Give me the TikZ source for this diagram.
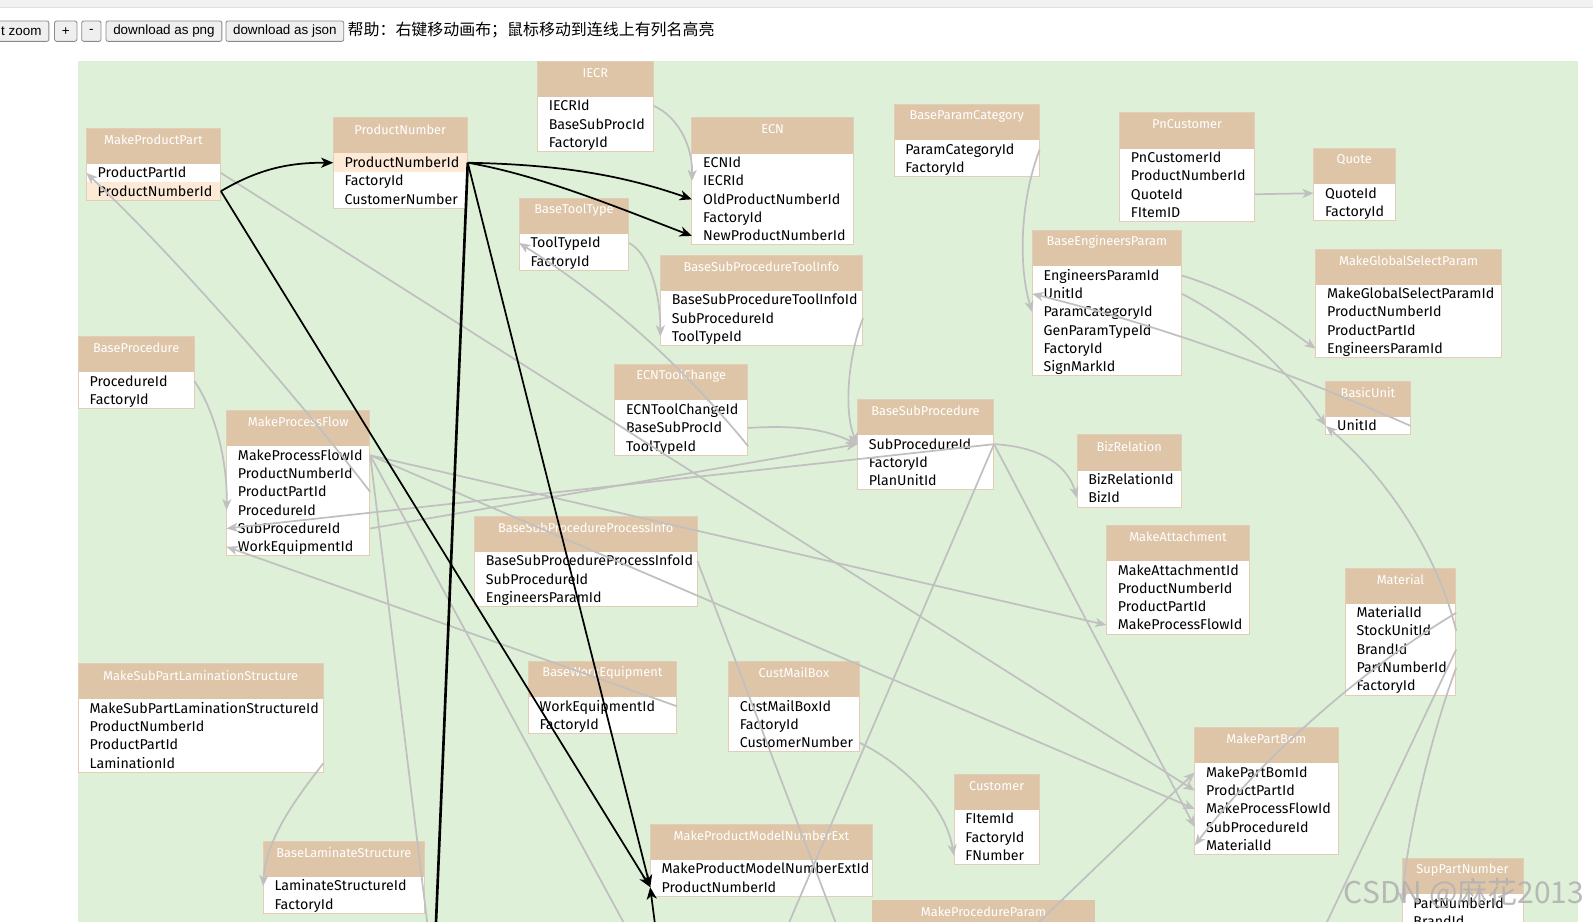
\documentclass[tikz,border=0pt]{standalone}
\usepackage{fontspec}
\setmainfont{Fira Sans}
\newfontfamily\cjkfont{Noto Sans CJK SC}
\newfontfamily\arialfont{Liberation Sans}
\usetikzlibrary{arrows.meta}
\definecolor{greenbg}{HTML}{DFF0D8}
\definecolor{hdrcol}{HTML}{DFC5A8}
\definecolor{bordercol}{HTML}{E2CDB6}
\definecolor{hlcol}{HTML}{FCE9D6}
\definecolor{linkgray}{HTML}{C0C0C0}
\definecolor{btnfill}{HTML}{EFEFEF}
\definecolor{btnborder}{HTML}{8A8A8A}
\definecolor{topband}{HTML}{F1F1F1}
\tikzset{
 hdr/.style={fill=hdrcol, inner sep=0pt, minimum height=35pt},
 hdrtxt/.style={text=white, font=\fontsize{12.6}{14}\selectfont, inner sep=0pt},
 rowbox/.style={inner sep=0pt, minimum height=18pt},
 rowtxt/.style={anchor=west, inner sep=0pt, font=\fontsize{14}{16}\selectfont, text height=10pt, text depth=3pt},
 glink/.style={draw=linkgray, line width=1.7pt, -{Stealth[length=11pt,width=9pt,inset=3pt]}},
 glinkn/.style={draw=linkgray, line width=1.7pt},
 blink/.style={draw=black, line width=1.7pt, -{Stealth[length=12pt,width=10pt,inset=3.5pt]}},
 blinkn/.style={draw=black, line width=2.6pt},
 btn/.style={draw=btnborder, fill=btnfill, rounded corners=2pt, line width=0.8pt},
 btntxt/.style={inner sep=0pt, font=\arialfont\fontsize{13.2}{15}\selectfont},
 wmark/.style={inner sep=0pt, text=black!30, opacity=0.9, font=\cjkfont\fontsize{29.5}{32}\selectfont},
}
% #1 name #2 L #3 R #4 T #5 n #6 title #7 fields #8 highlighted row
\newcommand{\tbl}[8]{%
  \pgfmathsetmacro{\tw}{#3-#2}%
  \fill[white] (#2,#4+35) rectangle (#3,{#4+35+18*#5});
  \node[hdr, minimum width=\tw pt, anchor=north west] (#1) at (#2,#4) {};
  \node[hdrtxt] (#1-t) at ({(#2+#3)/2},#4+11.5) {#6};
  \foreach \f [count=\i] in {#7} {
    \ifnum\i=#8 \fill[hlcol] (#2,{#4+35+18*(\i-1)}) rectangle (#3,{#4+35+18*\i}); \fi
    \node[rowbox, minimum width=\tw pt, anchor=north west] (#1-\i) at (#2,{#4+35+18*(\i-1)}) {};
    \node[rowtxt] (#1-\i-t) at (#2+11,{#4+45.5+18*(\i-1)}) {\f};
  }
  \draw[bordercol, line width=0.8pt] (#2,#4) rectangle (#3,{#4+35+18*#5});
}
\begin{document}
\begin{tikzpicture}[x=1pt,y=-1pt]
\clip (0,0) rectangle (1568,907.5);
\fill[white] (0,0) rectangle (1568,907.5);
\fill[topband] (0,0) rectangle (1568,7);
\draw[black!12, line width=0.6pt] (0,7) -- (1568,7);
% toolbar
\node[btn, minimum width=60pt, minimum height=20pt, anchor=north east] (bzoom) at (48.5,20.3) {};
\node[btntxt, anchor=east] (bzoom-t) at (41,30.5) {t zoom};
\node[btn, minimum width=22pt, minimum height=20pt, anchor=north west] (bplus) at (53.3,20.3) {};
\node[btntxt] (bplus-t) at (bplus.center) {+};
\node[btn, minimum width=19pt, minimum height=20pt, anchor=north west] (bminus) at (80,20.3) {};
\node[btntxt] (bminus-t) at (bminus.center) {-};
\node[btn, minimum width=114pt, minimum height=20pt, anchor=north west] (bpng) at (104,20.3) {};
\node[btntxt] (bpng-t) at (bpng.center) {download as png};
\node[btn, minimum width=116pt, minimum height=20pt, anchor=north west] (bjson) at (222,20.3) {};
\node[btntxt] (bjson-t) at (bjson.center) {download as json};
\node[inner sep=0pt, anchor=west, font=\cjkfont\fontsize{15.7}{18}\selectfont] (help) at (342,29.5) {帮助：右键移动画布；鼠标移动到连线上有列名高亮};
% canvas
\fill[greenbg] (77,60) rectangle (1553,908);
% tables
\tbl{IECR}{529}{643}{60}{3}{IECR}{IECRId,BaseSubProcId,FactoryId}{0}
\tbl{MakeProductPart}{85}{217}{126}{2}{MakeProductPart}{ProductPartId,ProductNumberId}{2}
\tbl{ProductNumber}{328}{460}{116}{3}{ProductNumber}{ProductNumberId,FactoryId,CustomerNumber}{1}
\tbl{ECN}{681}{840}{116}{5}{ECN}{ECNId,IECRId,OldProductNumberId,FactoryId,NewProductNumberId}{0}
\tbl{BaseToolType}{511}{619}{195}{2}{BaseToolType}{ToolTypeId,FactoryId}{0}
\tbl{BaseParamCategory}{880}{1023}{103}{2}{BaseParamCategory}{ParamCategoryId,FactoryId}{0}
\tbl{PnCustomer}{1102}{1235}{111}{4}{PnCustomer}{PnCustomerId,ProductNumberId,QuoteId,FItemID}{0}
\tbl{Quote}{1293}{1373}{146}{2}{Quote}{QuoteId,FactoryId}{0}
\tbl{BaseEngineersParam}{1016}{1163}{227}{6}{BaseEngineersParam}{EngineersParamId,UnitId,ParamCategoryId,GenParamTypeId,FactoryId,SignMarkId}{0}
\tbl{MakeGlobalSelectParam}{1295}{1478}{245}{4}{MakeGlobalSelectParam}{MakeGlobalSelectParamId,ProductNumberId,ProductPartId,EngineersParamId}{0}
\tbl{BaseSubProcedureToolInfo}{650}{849}{251}{3}{BaseSubProcedureToolInfo}{BaseSubProcedureToolInfoId,SubProcedureId,ToolTypeId}{0}
\tbl{BaseProcedure}{77}{191}{331}{2}{BaseProcedure}{ProcedureId,FactoryId}{0}
\tbl{ECNToolChange}{605}{736}{359}{3}{ECNToolChange}{ECNToolChangeId,BaseSubProcId,ToolTypeId}{0}
\tbl{MakeProcessFlow}{223}{364}{404}{6}{MakeProcessFlow}{MakeProcessFlowId,ProductNumberId,ProductPartId,ProcedureId,SubProcedureId,WorkEquipmentId}{0}
\tbl{BaseSubProcedure}{844}{978}{393}{3}{BaseSubProcedure}{SubProcedureId,FactoryId,PlanUnitId}{0}
\tbl{BizRelation}{1060}{1163}{428}{2}{BizRelation}{BizRelationId,BizId}{0}
\tbl{BasicUnit}{1305}{1388}{375}{1}{BasicUnit}{UnitId}{0}
\tbl{BaseSubProcedureProcessInfo}{467}{686}{508}{3}{BaseSubProcedureProcessInfo}{BaseSubProcedureProcessInfoId,SubProcedureId,EngineersParamId}{0}
\tbl{MakeAttachment}{1089}{1230}{517}{4}{MakeAttachment}{MakeAttachmentId,ProductNumberId,ProductPartId,MakeProcessFlowId}{0}
\tbl{Material}{1324}{1433}{559}{5}{Material}{MaterialId,StockUnitId,BrandId,PartNumberId,FactoryId}{0}
\tbl{MakeSubPartLaminationStructure}{77}{318}{653}{4}{MakeSubPartLaminationStructure}{MakeSubPartLaminationStructureId,ProductNumberId,ProductPartId,LaminationId}{0}
\tbl{BaseWorkEquipment}{520}{666}{651}{2}{BaseWorkEquipment}{WorkEquipmentId,FactoryId}{0}
\tbl{CustMailBox}{717}{846}{651}{3}{CustMailBox}{CustMailBoxId,FactoryId,CustomerNumber}{0}
\tbl{MakePartBom}{1176}{1317}{716}{5}{MakePartBom}{MakePartBomId,ProductPartId,MakeProcessFlowId,SubProcedureId,MaterialId}{0}
\tbl{Customer}{939}{1023}{762}{3}{Customer}{FItemId,FactoryId,FNumber}{0}
\tbl{MakeProductModelNumberExt}{640}{859}{811}{2}{MakeProductModelNumberExt}{MakeProductModelNumberExtId,ProductNumberId}{0}
\tbl{BaseLaminateStructure}{259}{418}{828}{2}{BaseLaminateStructure}{LaminateStructureId,FactoryId}{0}
\tbl{SupPartNumber}{1380}{1499}{845}{2}{SupPartNumber}{PartNumberId,BrandId}{0}
\node[hdr, minimum width=220pt, anchor=north west] (MakeProcedureParam) at (858,886) {};
\node[hdrtxt] (MakeProcedureParam-t) at (968,897.5) {MakeProcedureParam};
% free ends below the visible canvas
\coordinate (cb1) at (429,912);
\coordinate (cb2) at (645,912);
\coordinate (cb3) at (1304,912);
\coordinate (cb4) at (421,912);
\coordinate (cb5) at (616,912);
\coordinate (cb6) at (824,912);
\coordinate (cb7) at (775,912);
\coordinate (cb8) at (1018,912);
% gray connectors
\draw[glink] (IECR-1.east) .. controls (668,115) and (682,145) .. (ECN-2.west);
\draw[glink] (BaseToolType-1.east) .. controls (642,252) and (650,295) .. (BaseSubProcedureToolInfo-3.west);
\draw[glink] (BaseSubProcedureToolInfo-2.east) .. controls (835,350) and (830,405) .. (BaseSubProcedure-1.west);
\draw[glink] (ECNToolChange-2.east) .. controls (790,418) and (815,424) .. (BaseSubProcedure-1.west);
\draw[glink] (BaseSubProcedure-1.east) .. controls (1030,440) and (1052,462) .. (BizRelation-2.west);
\draw[glink] (BaseParamCategory-1.east) .. controls (1003,200) and (1003,265) .. (BaseEngineersParam-3.west);
\draw[glink] (BasicUnit-1.east) .. controls (1264,364) and (1140,320) .. (BaseEngineersParam-2.west);
\draw[glink] (BaseEngineersParam-1.east) .. controls (1230,292) and (1262,320) .. (MakeGlobalSelectParam-4.west);
\draw[glink] (BaseEngineersParam-2.east) .. controls (1220,318) and (1272,370) .. (BasicUnit-1.west);
\draw[glink] (PnCustomer-3.east) -- (Quote-1.west);
\draw[glink] (Material-2.east) .. controls (1415,545) and (1365,470) .. (BasicUnit-1.west);
\draw[glink] (Material-1.east) .. controls (1330,665) and (1230,760) .. (MakePartBom-5.west);
\draw[glinkn] (Material-3.east) -- (cb3);
\draw[glink] (Material-4.east) .. controls (1410,720) and (1385,820) .. (SupPartNumber-1.west);
\draw[glink] (MakeProcessFlow-3.east) .. controls (300,400) and (180,260) .. (MakeProductPart-1.west);
\draw[glink] (MakeProductPart-1.east) -- (MakePartBom-2.west);
\draw[glink] (MakeProcessFlow-1.east) -- (MakeAttachment-4.west);
\draw[glink] (MakeProcessFlow-1.east) -- (MakePartBom-3.west);
\draw[glinkn] (MakeProcessFlow-1.east) -- (cb4);
\draw[glinkn] (MakeProcessFlow-1.east) -- (cb5);
\draw[glink] (MakeProcessFlow-5.east) -- (BaseSubProcedure-1.west);
\draw[glink] (BaseSubProcedure-1.east) -- (MakeProcessFlow-5.west);
\draw[glink] (BaseProcedure-1.east) .. controls (212,405) and (224,455) .. (MakeProcessFlow-4.west);
\draw[glink] (BaseWorkEquipment-1.east) -- (MakeProcessFlow-6.west);
\draw[glink] (ECNToolChange-3.east) .. controls (672,360) and (598,294) .. (BaseToolType-1.west);
\draw[glinkn] (BaseSubProcedureProcessInfo-1.east) -- (cb6);
\draw[glinkn] (BaseSubProcedure-1.east) -- (cb7);
\draw[glink] (BaseSubProcedure-1.east) -- (MakePartBom-4.west);
\draw[glink] (cb8) -- (MakePartBom-1.west);
\draw[glink] (MakeSubPartLaminationStructure-4.east) .. controls (292,785) and (262,825) .. (BaseLaminateStructure-1.west);
\draw[glink] (CustMailBox-3.east) .. controls (885,750) and (930,790) .. (Customer-3.west);
% black connectors
\draw[blink] (MakeProductPart-2.east) .. controls (255,166) and (285,160) .. (ProductNumber-1.west);
\draw[blink] (ProductNumber-1.east) .. controls (560,162) and (620,175) .. (ECN-3.west);
\draw[blink] (ProductNumber-1.east) .. controls (530,172) and (610,205) .. (ECN-5.west);
\draw[blink] (ProductNumber-1.east) -- (MakeProductModelNumberExt-2.west);
\draw[blinkn] (ProductNumber-1.east) -- (cb1);
\draw[blink] (MakeProductPart-2.east) -- (MakeProductModelNumberExt-2.west);
\draw[blink] (cb2) -- (MakeProductModelNumberExt-2.west);
% watermark
\node[wmark] (wm) at (1441,879) {CSDN @麻花2013};
\end{tikzpicture}
\end{document}
